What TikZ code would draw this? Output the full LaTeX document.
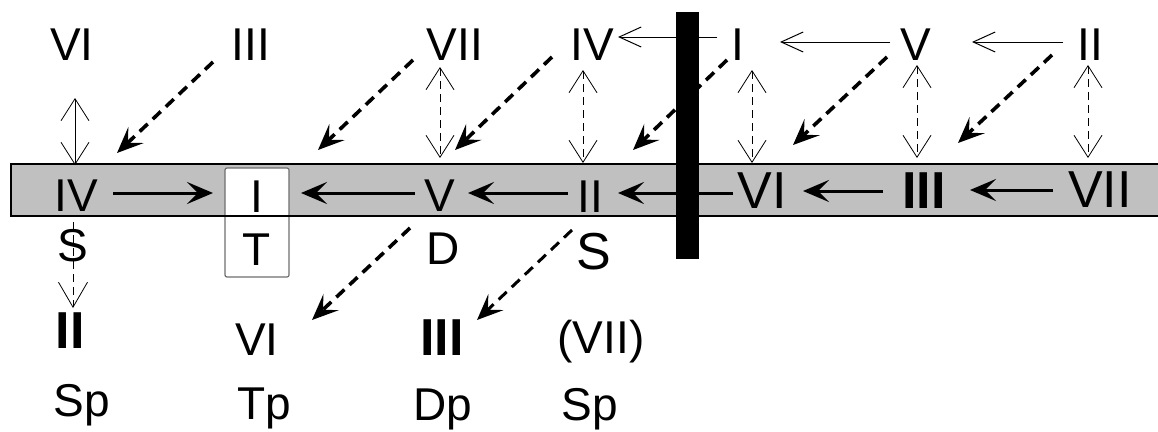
\documentclass[tikz,border=0pt]{standalone}
\usepackage{fontspec}
\setmainfont{Liberation Sans}
\usetikzlibrary{arrows.meta}
\begin{document}
\begin{tikzpicture}[x=1pt,y=-1pt,
  lbl/.style={font=\fontsize{46}{50}\selectfont, inner sep=0pt, text height=33pt, text depth=0pt, anchor=center},
  lblbig/.style={font=\fontsize{52}{56}\selectfont, inner sep=0pt, text height=37pt, text depth=0pt, anchor=center},
  lblbold/.style={font=\fontsize{52}{56}\selectfont\bfseries, inner sep=0pt, text height=37pt, text depth=0pt, anchor=center},
  toparr/.style={line width=1pt, -{Straight Barb[length=22pt,width=20pt,line width=1pt]}},
  mainarr/.style={line width=3pt, -{Stealth[length=26pt,width=22pt,inset=11pt]}},
  diagarr/.style={line width=3.6pt, dash pattern=on 11pt off 7pt, -{Stealth[length=26pt,width=22pt,inset=11pt]}},
  relarr/.style={line width=0.8pt, dash pattern=on 8pt off 5pt, {Straight Barb[length=22pt,width=28pt,line width=0.8pt]}-{Straight Barb[length=22pt,width=28pt,line width=0.8pt]}},
  relsolid/.style={line width=0.8pt, {Straight Barb[length=22pt,width=28pt,line width=0.8pt]}-{Straight Barb[length=22pt,width=28pt,line width=0.8pt]}},
  downarr/.style={line width=0.8pt, dash pattern=on 8pt off 5pt, -{Straight Barb[length=25pt,width=29pt,line width=0.8pt]}}
]
\useasboundingbox (0,0) rectangle (1158,431);
% band
\fill[fill={rgb,255:red,192;green,192;blue,192}] (11,164) rectangle (1162,216);
% box
\node[draw={rgb,255:red,110;green,110;blue,110}, line width=1.2pt, fill=white, rounded corners=2pt, minimum width=64pt, minimum height=109pt, inner sep=0pt] (box) at (257,222.5) {};
\draw[line width=1.5pt] (1162,164) -- (11,164) -- (11,216) -- (1162,216);
% top row
\node[lbl] (t1) at (72,44) {VI};
\node[lbl] (t2) at (251,44) {III};
\node[lbl] (t3) at (455,44) {VII};
\node[lbl] (t4) at (592,44) {IV};
\node[lbl] (t5) at (738,44) {I};
\node[lbl] (t6) at (916,44) {V};
\node[lbl] (t7) at (1090,44) {II};
% band row
\node[lbl] (b1) at (76,195) {IV};
\node[lbl] (b2) at (257,196) {I};
\node[lbl] (b3) at (440,195) {V};
\node[lbl] (b4) at (590,196) {II};
\node[lblbig] (b5) at (762,190) {VI};
\node[lblbold] (b6) at (924,190) {III};
\node[lblbig] (b7) at (1100,189) {VII};
% function row
\node[lbl] (s1) at (73,245) {S};
\node[lbl] (tt) at (257,249) {T};
\node[lbl] (dd) at (443,248) {D};
\node[lblbig] (s2) at (594,251) {S};
% third row
\node[lblbold] (r1) at (70,330) {II};
\node[lbl] (r2) at (257,339) {VI};
\node[lblbold] (r3) at (442,337) {III};
\node[lbl] (r4) at (601,337) {(VII)};
% fourth row
\node[lbl] (p1) at (82,400) {Sp};
\node[lbl] (p2) at (264,403) {Tp};
\node[lbl] (p3) at (443,404) {Dp};
\node[lbl] (p4) at (590,404) {Sp};
% top horizontal arrows
\draw[toparr] ([shift={(-21,-7)}]t5.center) -- ([shift={(26,-7)}]t4.center);
\draw[toparr] ([shift={(-26,-2)}]t6.center) -- ([shift={(42,-2)}]t5.center);
\draw[toparr] ([shift={(-27,-2)}]t7.center) -- ([shift={(56,-2)}]t6.center);
% band arrows
\draw[mainarr] ([shift={(37,-2)}]b1.center) -- ([shift={(-44,-3)}]b2.center);
\draw[mainarr] ([shift={(-25,-2)}]b3.center) -- ([shift={(44,-3)}]b2.center);
\draw[mainarr] ([shift={(-22,-3)}]b4.center) -- ([shift={(28,-2)}]b3.center);
\draw[mainarr] ([shift={(-29,3)}]b5.center) -- ([shift={(28,-3)}]b4.center);
\draw[mainarr] ([shift={(-41,1)}]b6.center) -- ([shift={(41,1)}]b5.center);
\draw[mainarr] ([shift={(-47,1)}]b7.center) -- ([shift={(46,0)}]b6.center);
% diagonal dashed arrows
\draw[diagarr] ([shift={(-38,18)}]t2.center) -- ([shift={(41,-42)}]b1.center);
\draw[diagarr] ([shift={(-42,16)}]t3.center) -- ([shift={(61,-46)}]b2.center);
\draw[diagarr] ([shift={(-40,13)}]t4.center) -- ([shift={(15,-45)}]b3.center);
\draw[diagarr] ([shift={(-11,16)}]t5.center) -- ([shift={(43,-46)}]b4.center);
\draw[diagarr] ([shift={(-29,13)}]t6.center) -- ([shift={(31,-45)}]b5.center);
\draw[diagarr] ([shift={(-38,11)}]t7.center) -- ([shift={(34,-47)}]b6.center);
\draw[diagarr] ([shift={(-30,33)}]b3.center) -- ([shift={(55,-19)}]r2.center);
\draw[diagarr, line width=3pt] ([shift={(-18,34)}]b4.center) -- ([shift={(35,-17)}]r3.center);
% vertical relations
\draw[relsolid] ([shift={(3,54)}]t1.center) -- ([shift={(-1,-30)}]b1.center);
\draw[relarr] ([shift={(-15,23)}]t3.center) -- ([shift={(0,-37)}]b3.center);
\draw[relarr] ([shift={(-9,26)}]t4.center) -- ([shift={(-7,-33)}]b4.center);
\draw[relarr] ([shift={(14,26)}]t5.center) -- ([shift={(-10,-27)}]b5.center);
\draw[relarr] ([shift={(1,21)}]t6.center) -- ([shift={(-7,-32)}]b6.center);
\draw[relarr] ([shift={(-2,21)}]t7.center) -- ([shift={(-12,-31)}]b7.center);
\draw[downarr] ([shift={(-3,27)}]b1.center) -- ([shift={(3,-22)}]r1.center);
% black bar
\fill[black] (676,12) rectangle (699,259);
\end{tikzpicture}
\end{document}
